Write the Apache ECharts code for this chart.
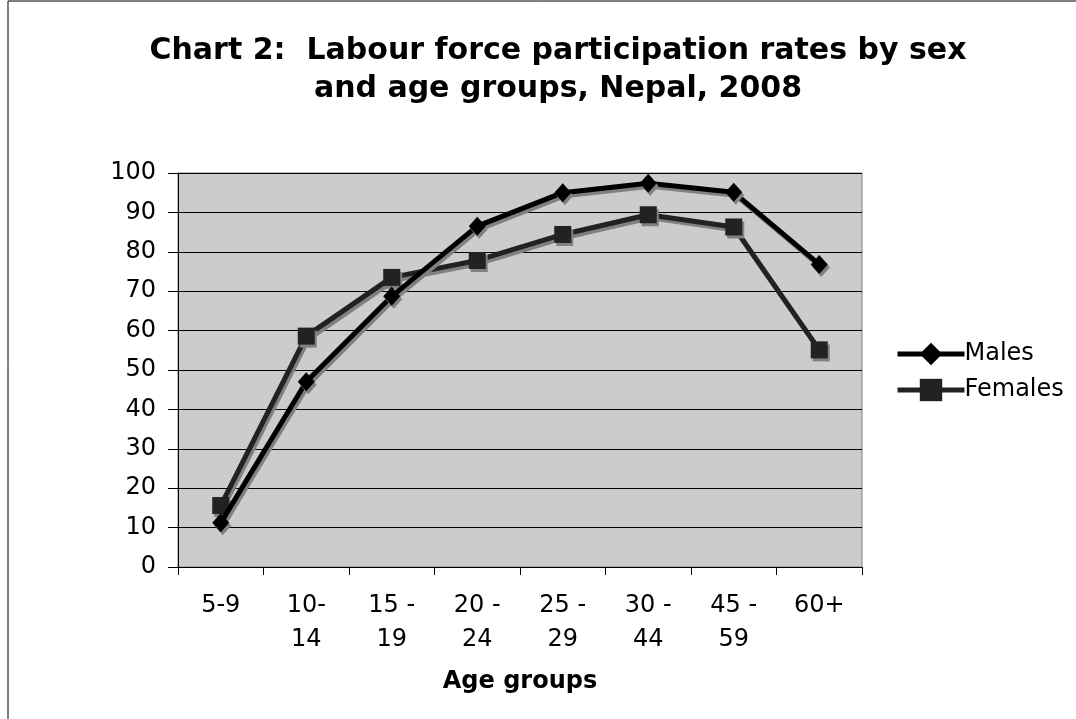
<!DOCTYPE html>
<html>
<head>
<meta charset="utf-8">
<script src="https://cdn.jsdelivr.net/npm/echarts@6/dist/echarts.min.js"></script>
<style>
html,body{margin:0;padding:0;background:#fff;}
#c{width:1076px;height:719px;}
</style>
</head>
<body>
<div id="c"></div>
<script>
const categories = ['5-9', '10-\n14', '15 -\n19', '20 -\n24', '25 -\n29', '30 -\n44', '45 -\n59', '60+'];
const males = [11.2, 47.0, 68.7, 86.5, 95.0, 97.4, 95.1, 76.8];
const females = [15.6, 58.6, 73.5, 77.8, 84.4, 89.4, 86.3, 55.1];
const yTicks = [0, 10, 20, 30, 40, 50, 60, 70, 80, 90, 100];

const chart = echarts.init(document.getElementById('c'));
const font = 'DejaVu Sans, Verdana, sans-serif';
const noShadow = 'rgba(0,0,0,0)';
chart.setOption({
  animation: false,
  backgroundColor: '#ffffff',
  graphic: [
    {type: 'rect', shape: {x: 8, y: 1, width: 1100, height: 760}, style: {fill: 'none', stroke: '#000', lineWidth: 1}, silent: true},
    {type: 'text', x: 558, y: 32, style: {text: 'Chart 2:  Labour force participation rates by sex\nand age groups, Nepal, 2008', fontFamily: font, fontWeight: 'bold', fontSize: 30, lineHeight: 38, textAlign: 'center', textVerticalAlign: 'top', fill: '#000'}}
  ],
  grid: {left: 178, right: 214, top: 173, bottom: 152, show: true, backgroundColor: '#cccccc', borderColor: '#808080', borderWidth: 1, containLabel: false, outerBoundsMode: 'none'},
  legend: {
    orient: 'vertical', left: 890, top: 337, itemWidth: 67, itemHeight: 28, itemGap: 12,
    textStyle: {fontFamily: font, fontSize: 24, color: '#000', padding: [0, 0, 0, -5]},
    lineStyle: {width: 5, shadowColor: noShadow, shadowBlur: 0, shadowOffsetX: 0, shadowOffsetY: 0},
    itemStyle: {shadowColor: noShadow, shadowBlur: 0, shadowOffsetX: 0, shadowOffsetY: 0},
    data: ['Males', 'Females']
  },
  xAxis: {
    type: 'category', data: categories, boundaryGap: true,
    axisLine: {lineStyle: {color: '#000', width: 1}},
    axisTick: {show: true, length: 8, lineStyle: {color: '#000'}},
    axisLabel: {fontFamily: font, fontSize: 24, color: '#000', lineHeight: 34, margin: 22, interval: 0},
    name: 'Age groups', nameLocation: 'middle', nameGap: 103,
    nameTextStyle: {fontFamily: font, fontSize: 24, fontWeight: 'bold', color: '#000'}
  },
  yAxis: {
    type: 'value', min: 0, max: 100, interval: 10,
    axisLine: {show: true, lineStyle: {color: '#000', width: 1}},
    axisTick: {show: true, length: 10, lineStyle: {color: '#000'}},
    axisLabel: {fontFamily: font, fontSize: 24, color: '#000', margin: 22,
      formatter: v => yTicks.includes(v) ? String(v) : ''},
    splitLine: {show: true, lineStyle: {color: '#000', width: 1}}
  },
  series: [
    {
      name: 'Males', type: 'line', data: males,
      symbol: 'diamond', symbolSize: [17, 19],
      lineStyle: {color: '#000', width: 5, shadowColor: '#808080', shadowOffsetX: 2, shadowOffsetY: 3, shadowBlur: 0},
      itemStyle: {color: '#000', shadowColor: '#808080', shadowOffsetX: 2, shadowOffsetY: 3, shadowBlur: 0},
      z: 3
    },
    {
      name: 'Females', type: 'line', data: females,
      symbol: 'rect', symbolSize: 17,
      lineStyle: {color: '#222', width: 5, shadowColor: '#808080', shadowOffsetX: 2, shadowOffsetY: 3, shadowBlur: 0},
      itemStyle: {color: '#222', shadowColor: '#808080', shadowOffsetX: 2, shadowOffsetY: 3, shadowBlur: 0},
      z: 2
    }
  ]
});
</script>
</body>
</html>
